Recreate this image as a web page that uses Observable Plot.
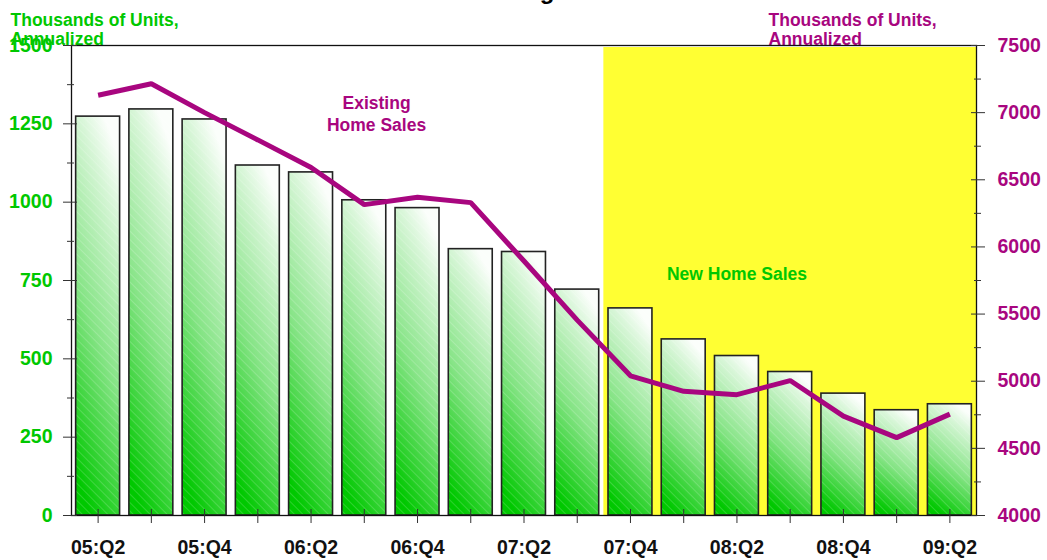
<!DOCTYPE html>
<html>
<head>
<meta charset="utf-8">
<script src="https://cdn.jsdelivr.net/npm/d3@7"></script>
<script src="https://cdn.jsdelivr.net/npm/@observablehq/plot@0.6"></script>
<style>
  html, body { margin: 0; padding: 0; background: #fff; }
  #wrap { position: relative; width: 1047px; height: 560px; overflow: hidden; background: #fff; }
  #title {
    position: absolute; top: -21px; left: 0; width: 1013px; z-index: 2;
    text-align: center; font: bold 24px/24px "Liberation Sans", Arial, sans-serif; color: #000;
  }
  #chart { position: absolute; top: 0; left: 0; }
</style>
</head>
<body>
<div id="wrap">
  <div id="title">Housing</div>
  <div id="chart"></div>
</div>
<script>
// Quarterly home sales, thousands of units (annualized)
const quarters = ["05:Q2","05:Q3","05:Q4","06:Q1","06:Q2","06:Q3","06:Q4","07:Q1","07:Q2",
                  "07:Q3","07:Q4","08:Q1","08:Q2","08:Q3","08:Q4","09:Q1","09:Q2"];
const newHomeSales = [1273, 1296, 1264, 1117, 1095, 1006, 981, 850, 841,
                      721, 661, 562, 509, 458, 389, 336, 355];
const existingHomeSales = [7130, 7215, 7000, 6797, 6592, 6315, 6370, 6330, 5895,
                           5455, 5040, 4925, 4900, 5005, 4740, 4580, 4755];
const leftTicks = [0, 250, 500, 750, 1000, 1250, 1500];
const leftMinorTicks = [125, 375, 625, 875, 1125, 1375];
const rightTicks = [4000, 4500, 5000, 5500, 6000, 6500, 7000, 7500];
const rightMinorTicks = [4250, 4750, 5250, 5750, 6250, 6750, 7250];
const shadedFrom = "07:Q4";

const GREEN = "#00c800";
const PURPLE = "#a8067f";
const FONT = "Liberation Sans, Arial, Helvetica, sans-serif";

// Right axis (existing sales) is mapped onto the left-axis range
const leftMax = 1500, rightMin = 4000, rightMax = 7500;
const toLeft = v => (v - rightMin) * leftMax / (rightMax - rightMin);
const fromLeft = d => String(Math.round(rightMin + d * (rightMax - rightMin) / leftMax));

const rows = quarters.map((q, i) => ({
  q, i: i + 1, newSales: newHomeSales[i], existing: toLeft(existingHomeSales[i])
}));
const n = quarters.length;
const shadeStart = quarters.indexOf(shadedFrom) + 1;
const labelled = rows.filter((d, k) => k % 2 === 0).map(d => d.i);

// Gradient fill and diagonal hatch shared by all bars
const defs = () => {
  const g = d3.create("svg:defs");
  const grad = g.append("linearGradient").attr("id", "barFill")
    .attr("x1", 0.35).attr("y1", 1).attr("x2", 0.65).attr("y2", 0);
  grad.append("stop").attr("offset", 0).attr("stop-color", GREEN);
  grad.append("stop").attr("offset", 0.45).attr("stop-color", "#86e486");
  grad.append("stop").attr("offset", 0.85).attr("stop-color", "#d8f6d8");
  grad.append("stop").attr("offset", 1).attr("stop-color", "#fbfefb");
  const pat = g.append("pattern").attr("id", "barHatch")
    .attr("patternUnits", "userSpaceOnUse").attr("width", 6).attr("height", 6)
    .attr("patternTransform", "rotate(-45)");
  pat.append("line").attr("x1", 0).attr("y1", 0).attr("x2", 0).attr("y2", 6)
    .attr("stroke", "#fff").attr("stroke-width", 1).attr("stroke-opacity", 0.35);
  return g.node();
};

const textStyle = {fontFamily: FONT, fontWeight: "bold"};

const chart = Plot.plot({
  width: 1047,
  height: 560,
  marginLeft: 71,
  marginRight: 71,
  marginTop: 45,
  marginBottom: 45,
  style: {fontFamily: FONT, background: "transparent", overflow: "visible"},
  x: {domain: [0.5, n + 0.5], axis: null},
  y: {domain: [0, leftMax], axis: null},
  marks: [
    defs,
    // shaded period
    Plot.rect([{x1: shadeStart - 0.5, x2: n + 0.5}], {
      x1: "x1", x2: "x2", y1: 0, y2: leftMax, fill: "#ffff33", insetTop: 2
    }),
    // new home sales bars
    Plot.rectY(rows, {x1: d => d.i - 0.5, x2: d => d.i + 0.5, y: "newSales",
      fill: "url(#barFill)", insetLeft: 4.65, insetRight: 4.65}),
    Plot.rectY(rows, {x1: d => d.i - 0.5, x2: d => d.i + 0.5, y: "newSales",
      fill: "url(#barHatch)", stroke: "#222", strokeWidth: 1.6,
      insetLeft: 4.65, insetRight: 4.65}),
    // existing home sales line
    Plot.line(rows, {x: "i", y: "existing", stroke: PURPLE, strokeWidth: 5,
      strokeLinejoin: "miter", strokeLinecap: "butt"}),
    // series labels
    Plot.text(["Existing\nHome Sales"], {x: 6.23, y: 1285, text: d => d,
      fill: PURPLE, fontSize: 17.5, lineHeight: 1.27, ...textStyle}),
    Plot.text(["New Home Sales"], {x: 13, y: 771, text: d => d,
      fill: GREEN, fontSize: 17.5, ...textStyle}),
    // axis titles
    Plot.text(["Thousands of Units,\nAnnualized"], {frameAnchor: "top-left", text: d => d,
      dx: -61, dy: -33.5, lineAnchor: "top", textAnchor: "start", lineHeight: 1.1,
      fill: GREEN, fontSize: 17.5, ...textStyle}),
    Plot.text(["Thousands of Units,\nAnnualized"], {frameAnchor: "top-right", text: d => d,
      dx: -208, dy: -33.5, lineAnchor: "top", textAnchor: "start", lineHeight: 1.1,
      fill: PURPLE, fontSize: 17.5, ...textStyle}),
    Plot.frame({stroke: "#111", strokeWidth: 1.3}),
    // left axis (new home sales)
    Plot.axisY(leftTicks, {anchor: "left", tickSize: 14, dx: 6, fill: "none",
      stroke: "#333", label: null}),
    Plot.axisY(leftMinorTicks, {anchor: "left", tickSize: 7, dx: 3, fill: "none",
      stroke: "#333", label: null}),
    Plot.axisY(leftTicks, {anchor: "left", tickSize: 0, tickPadding: 19, stroke: "none",
      fill: GREEN, fontSize: 19.5, fontWeight: "bold", tickFormat: d => String(d), label: null}),
    // right axis (existing home sales)
    Plot.axisY(rightTicks.map(toLeft), {anchor: "right", tickSize: 14, dx: -6, fill: "none",
      stroke: "#333", label: null}),
    Plot.axisY(rightMinorTicks.map(toLeft), {anchor: "right", tickSize: 7, dx: -3, fill: "none",
      stroke: "#333", label: null}),
    Plot.axisY(rightTicks.map(toLeft), {anchor: "right", tickSize: 0, tickPadding: 21,
      stroke: "none", fill: PURPLE, fontSize: 19.5, fontWeight: "bold",
      tickFormat: fromLeft, label: null}),
    // quarter axis
    Plot.axisX(rows.map(d => d.i), {anchor: "bottom", tickSize: 14, dy: -6, fill: "none",
      stroke: "#333", label: null}),
    Plot.axisX(labelled, {anchor: "bottom", tickSize: 0, tickPadding: 25, stroke: "none",
      fill: "#111", fontSize: 19.5, fontWeight: "bold",
      tickFormat: i => quarters[i - 1], label: null})
  ]
});

document.getElementById("chart").append(chart);
</script>
</body>
</html>
